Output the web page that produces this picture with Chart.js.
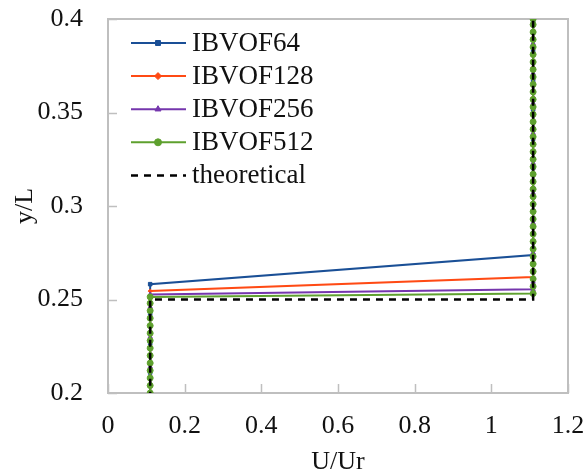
<!DOCTYPE html>
<html>
<head>
<meta charset="utf-8">
<script src="https://cdn.jsdelivr.net/npm/chart.js@4"></script>
<style>
  html, body { margin: 0; padding: 0; background: #fff; }
  canvas { display: block; }
</style>
</head>
<body>
<canvas id="chart" width="588" height="476"></canvas>
<script>
// U/Ur of the two vertical branches
const uLow = 0.11;
const uHigh = 1.109;

// y/L points, lower branch (U = uLow) and upper branch (U = uHigh)
const ibvof64Low = [0.1953, 0.2109, 0.2266, 0.2422, 0.2582];
const ibvof64High = [0.2738, 0.2891, 0.3047, 0.3203, 0.3359, 0.3516, 0.3672, 0.3828, 0.3984, 0.4141];
const ibvof128Low = [0.1990, 0.2150, 0.2310, 0.2470, 0.2545];
const ibvof128High = [0.2620, 0.2780, 0.2940, 0.3100, 0.3260, 0.3420, 0.3580, 0.3740, 0.3900, 0.4060];
const ibvof256Low = [0.1980, 0.2140, 0.2300, 0.2460, 0.2527];
const ibvof256High = [0.2555, 0.2594, 0.2750, 0.2910, 0.3070, 0.3230, 0.3390, 0.3550, 0.3710, 0.3870, 0.4030];
const ibvof512Low = [0.2000, 0.2040, 0.2080, 0.2120, 0.2160, 0.2200, 0.2240, 0.2280, 0.2320, 0.2360,
  0.2400, 0.2440, 0.2480, 0.2514];
const ibvof512High = [0.2532, 0.2570, 0.2610, 0.2650, 0.2690, 0.2730, 0.2770, 0.2810, 0.2850, 0.2890,
  0.2930, 0.2970, 0.3010, 0.3050, 0.3090, 0.3130, 0.3170, 0.3210, 0.3250, 0.3290,
  0.3330, 0.3370, 0.3410, 0.3450, 0.3490, 0.3530, 0.3570, 0.3610, 0.3650, 0.3690,
  0.3730, 0.3770, 0.3810, 0.3850, 0.3890, 0.3930, 0.3970, 0.4000];
const theoryLow = [0.19, 0.25];
const theoryHigh = [0.25, 0.41];

const xTicks = [0, 0.2, 0.4, 0.6, 0.8, 1, 1.2];
const xTickLabels = ["0", "0.2", "0.4", "0.6", "0.8", "1", "1.2"];
const yTicks = [0.2, 0.25, 0.3, 0.35, 0.4];
const yTickLabels = ["0.2", "0.25", "0.3", "0.35", "0.4"];

function profile(low, high) {
  return low.map(y => ({ x: uLow, y: y })).concat(high.map(y => ({ x: uHigh, y: y })));
}

const serif = "'Liberation Serif', 'Times New Roman', serif";

// plot frame and inner tick marks
const frame = {
  id: "frame",
  beforeDatasetsDraw(chart) {
    const { ctx, chartArea: a, scales } = chart;
    ctx.save();
    ctx.strokeStyle = "#bfbfbf";
    ctx.lineWidth = 1.5;
    scales.x.ticks.forEach(t => {
      const px = Math.round(scales.x.getPixelForValue(t.value)) + 0.5;
      ctx.beginPath();
      ctx.moveTo(px, a.bottom);
      ctx.lineTo(px, a.bottom - 9);
      ctx.stroke();
    });
    scales.y.ticks.forEach(t => {
      const py = Math.round(scales.y.getPixelForValue(t.value)) + 0.5;
      ctx.beginPath();
      ctx.moveTo(a.left, py);
      ctx.lineTo(a.left + 9, py);
      ctx.stroke();
    });
    ctx.lineWidth = 2;
    ctx.strokeRect(a.left, a.top, a.right - a.left, a.bottom - a.top);
    ctx.restore();
  },
  afterDraw(chart) {
    const ctx = chart.ctx;
    ctx.save();
    chart.data.datasets.forEach((ds, i) => {
      const y = 43 + i * 33.1;
      ctx.strokeStyle = ds.borderColor;
      ctx.lineWidth = ds.borderWidth;
      ctx.setLineDash(ds.borderDash || []);
      ctx.beginPath();
      ctx.moveTo(131, y);
      ctx.lineTo(186, y);
      ctx.stroke();
      ctx.setLineDash([]);
      if (ds.pointRadius > 0 && Chart.helpers && Chart.helpers.drawPoint) {
        ctx.fillStyle = ds.borderColor;
        ctx.strokeStyle = ds.borderColor;
        ctx.lineWidth = 1;
        Chart.helpers.drawPoint(ctx, {
          pointStyle: ds.pointStyle, radius: ds.legendRadius, borderWidth: 1, rotation: 0
        }, 158, y);
      }
      ctx.fillStyle = "#111";
      ctx.font = "27px " + serif;
      ctx.textBaseline = "middle";
      ctx.textAlign = "left";
      ctx.fillText(ds.label, 192, y + 1);
    });
    ctx.restore();
  }
};

function series(label, data, color, style, radius, order) {
  return {
    label: label,
    data: data,
    showLine: true,
    borderColor: color,
    backgroundColor: color,
    borderWidth: 2,
    pointStyle: style,
    pointRadius: radius,
    pointBorderWidth: 1,
    pointHoverRadius: radius,
    legendRadius: 3.5,
    order: order
  };
}

new Chart(document.getElementById("chart"), {
  type: "scatter",
  data: {
    datasets: [
      series("IBVOF64", profile(ibvof64Low, ibvof64High), "#1a4f96", "rect", 2.5, 4),
      series("IBVOF128", profile(ibvof128Low, ibvof128High), "#ff4a14", "rectRot", 2, 3),
      series("IBVOF256", profile(ibvof256Low, ibvof256High), "#7536ad", "triangle", 2.5, 2),
      series("IBVOF512", profile(ibvof512Low, ibvof512High), "#5ea02e", "circle", 3, 1),
      {
        label: "theoretical",
        data: profile(theoryLow, theoryHigh),
        showLine: true,
        borderColor: "#000",
        borderWidth: 2.5,
        borderDash: [7, 6],
        pointRadius: 0,
        order: 0
      }
    ]
  },
  options: {
    responsive: false,
    animation: false,
    layout: { padding: { top: 19, right: 20, left: 0, bottom: 0 } },
    plugins: { legend: { display: false }, tooltip: { enabled: false } },
    scales: {
      x: {
        type: "linear",
        min: 0,
        max: 1.2,
        afterBuildTicks: s => { s.ticks = xTicks.map(v => ({ value: v })); },
        afterFit: s => { s.height = 83; s.paddingLeft = 0; s.paddingRight = 0; },
        grid: { display: false, drawTicks: false },
        border: { display: false },
        ticks: {
          callback: (v, i) => xTickLabels[i],
          font: { family: serif, size: 26 },
          color: "#111",
          padding: 18,
          maxRotation: 0
        },
        title: {
          display: true,
          text: "U/Ur",
          font: { family: serif, size: 26, lineHeight: 1.1 },
          color: "#111",
          padding: { top: 0, bottom: 0 }
        }
      },
      y: {
        type: "linear",
        min: 0.2,
        max: 0.4,
        afterBuildTicks: s => { s.ticks = yTicks.map(v => ({ value: v })); },
        afterFit: s => { s.width = 108; s.paddingTop = 0; s.paddingBottom = 0; },
        grid: { display: false, drawTicks: false },
        border: { display: false },
        ticks: {
          callback: (v, i) => yTickLabels[i],
          font: { family: serif, size: 26 },
          color: "#111",
          padding: 25
        },
        title: {
          display: true,
          text: "y/L",
          font: { family: serif, size: 26, lineHeight: 1.2 },
          color: "#111",
          padding: { top: 10, bottom: 0 }
        }
      }
    }
  },
  plugins: [frame]
});
</script>
</body>
</html>
